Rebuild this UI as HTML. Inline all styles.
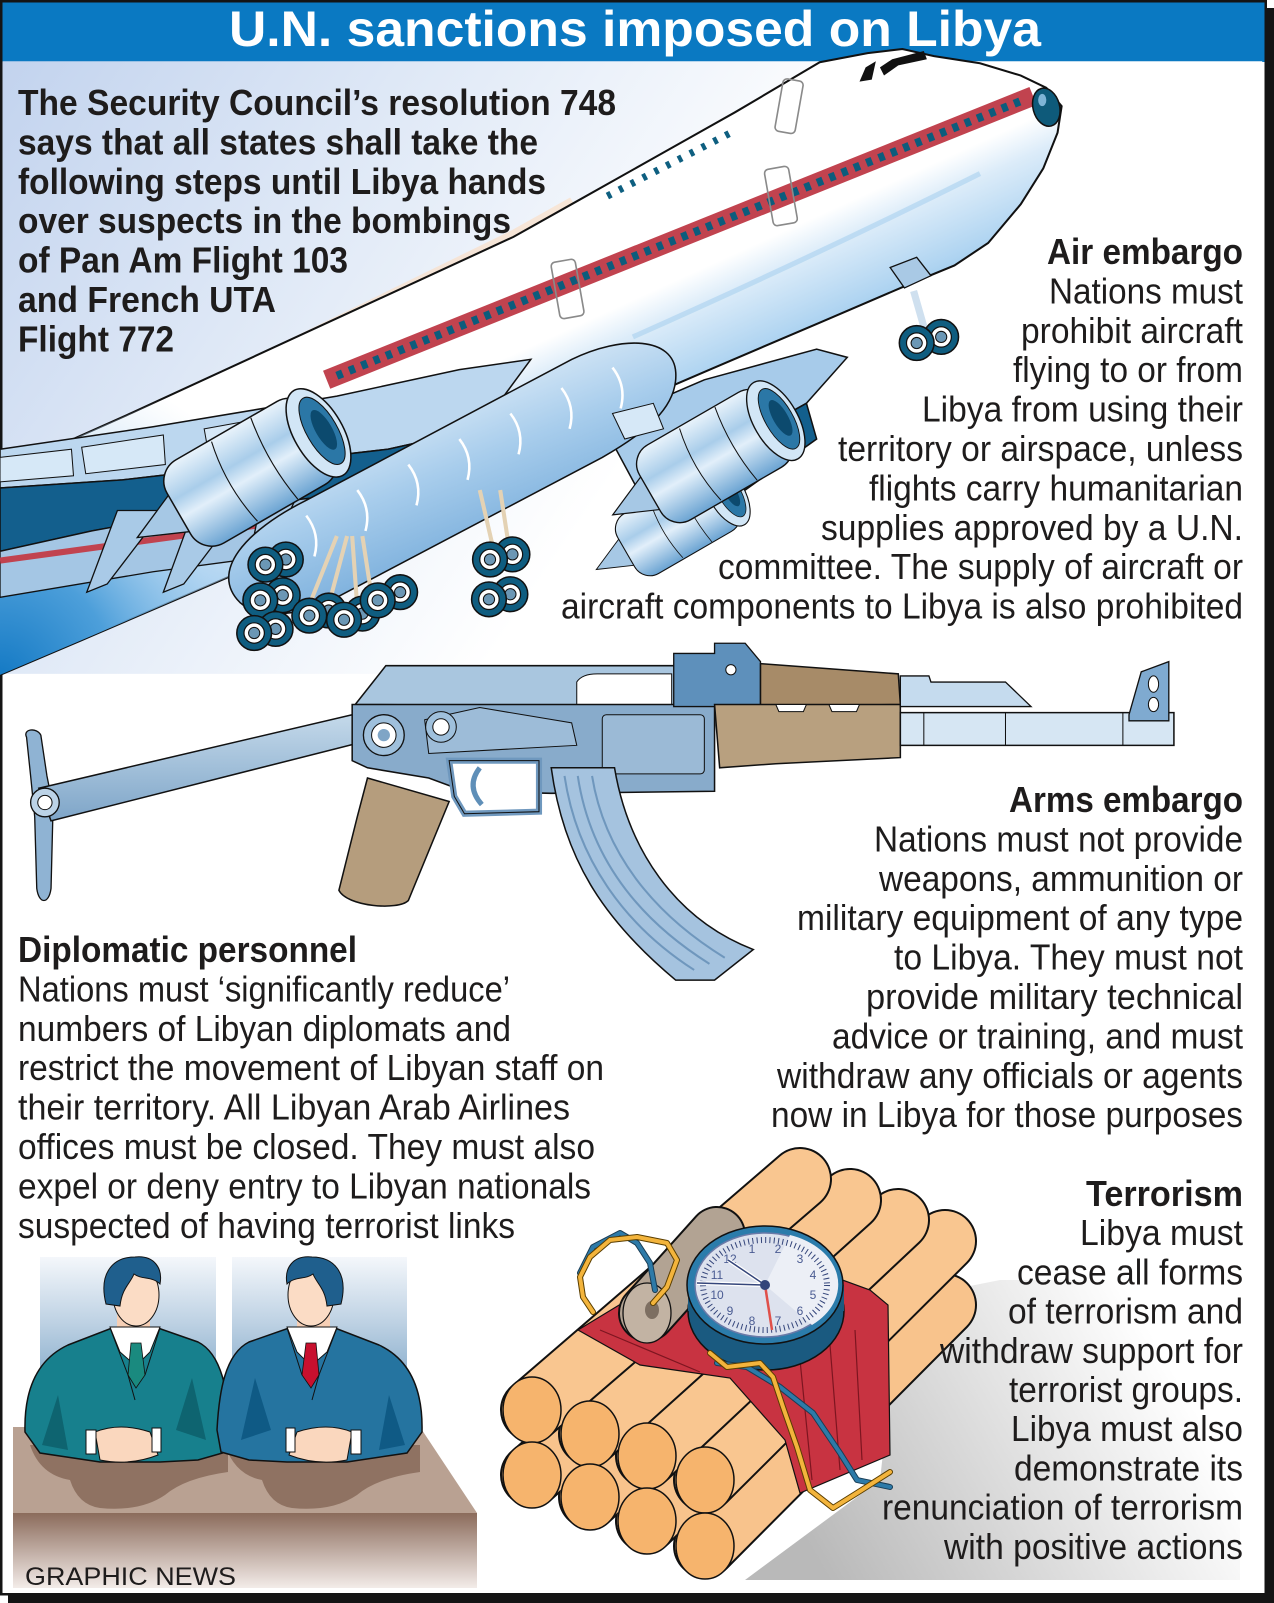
<!DOCTYPE html>
<html><head><meta charset="utf-8">
<style>
html,body{margin:0;padding:0;background:#fff;width:1274px;height:1603px;overflow:hidden}
svg{display:block}
text{font-family:"Liberation Sans",Arial,sans-serif;fill:#1e1c1c}
.b{font-weight:bold}
.t{font-size:36px}
</style></head><body>
<svg xmlns="http://www.w3.org/2000/svg" width="1274" height="1603" viewBox="0 0 1274 1603">
<defs>
<linearGradient id="sky" gradientUnits="userSpaceOnUse" x1="0" y1="60" x2="600" y2="470">
<stop offset="0" stop-color="#c2d3ee"/><stop offset="0.5" stop-color="#e1eaf7"/><stop offset="1" stop-color="#ffffff"/></linearGradient>
<linearGradient id="fuse" gradientUnits="userSpaceOnUse" x1="600" y1="178" x2="700" y2="398">
<stop offset="0" stop-color="#ffffff"/><stop offset="0.47" stop-color="#ffffff"/><stop offset="0.6" stop-color="#dcecf9"/><stop offset="0.85" stop-color="#afd4f1"/><stop offset="1" stop-color="#8cc2ea"/></linearGradient>
<radialGradient id="tailblue" gradientUnits="userSpaceOnUse" cx="0" cy="665" r="320">
<stop offset="0" stop-color="#1379c4"/><stop offset="0.35" stop-color="#4d9fda"/><stop offset="0.7" stop-color="#a9d0f0" stop-opacity="0.6"/><stop offset="1" stop-color="#cfe5f7" stop-opacity="0"/></radialGradient>
<linearGradient id="eng" x1="0" y1="0" x2="0" y2="1">
<stop offset="0" stop-color="#e9f3fb"/><stop offset="0.35" stop-color="#a9cdea"/><stop offset="0.55" stop-color="#e2effa"/><stop offset="1" stop-color="#6aa3d2"/></linearGradient>
<linearGradient id="belly" gradientUnits="userSpaceOnUse" x1="420" y1="380" x2="480" y2="530">
<stop offset="0" stop-color="#dcebf8"/><stop offset="0.5" stop-color="#a8cdec"/><stop offset="1" stop-color="#7eb1dd"/></linearGradient>
<linearGradient id="steel" x1="0" y1="0" x2="0" y2="1">
<stop offset="0" stop-color="#c4d9ea"/><stop offset="1" stop-color="#7ea5c8"/></linearGradient>
<linearGradient id="panel" x1="0" y1="0" x2="0" y2="1">
<stop offset="0" stop-color="#f4f7fb"/><stop offset="0.35" stop-color="#bdd1e3"/><stop offset="1" stop-color="#4c84b2"/></linearGradient>
<linearGradient id="tfront" x1="0" y1="0" x2="0" y2="1">
<stop offset="0" stop-color="#8b6b5b"/><stop offset="1" stop-color="#f3ece9"/></linearGradient>
<linearGradient id="shadow" gradientUnits="userSpaceOnUse" x1="800" y1="1530" x2="1150" y2="1330">
<stop offset="0" stop-color="#b9b9b9"/><stop offset="0.5" stop-color="#dcdcdc"/><stop offset="1" stop-color="#ffffff"/></linearGradient>
<g id="wh"><circle r="17" fill="#0f5d80" stroke="#111" stroke-width="1.5"/><circle r="10" fill="#fff" stroke="#111" stroke-width="1.2"/><circle r="5.5" fill="#6b97b5" stroke="#111" stroke-width="1"/></g>
<g id="engine">
 <path d="M-150,-24 L-205,0 L-150,24Z" fill="#a6c8e5" stroke="#111" stroke-width="1.3"/>
 <rect x="-158" y="-47" width="162" height="94" rx="24" fill="url(#eng)" stroke="#111" stroke-width="1.5"/>
 <path d="M-95,-45 Q-105,0 -95,45 M-50,-46 Q-58,0 -50,46" stroke="#111" fill="none" stroke-width="1.1"/>
 <ellipse cx="0" cy="0" rx="24" ry="48" fill="#d2e6f6" stroke="#111" stroke-width="1.5"/>
 <ellipse cx="4" cy="0" rx="15" ry="37" fill="#2b77a6" stroke="#111"/>
 <ellipse cx="6" cy="0" rx="8" ry="22" fill="#0c4a6e"/>
</g>
</defs>

<!-- frame -->
<rect x="8" y="8" width="1266" height="1595" fill="#141414"/>
<rect x="1.25" y="1.25" width="1264.5" height="1593" fill="#fff" stroke="#141414" stroke-width="2.5"/>
<rect x="2.5" y="2.5" width="1262" height="59.5" fill="#0a79c2"/>

<!-- ILLUSTRATION (perceived coords scaled) -->
<g transform="scale(1.0208 1.021)">
 <rect x="2.5" y="60" width="1234" height="600" fill="url(#sky)"/>
 <path d="M250,352 L503,228 L560,196" stroke="#fbdcc0" stroke-width="6" fill="none" opacity="0.6"/>
 <!-- fuselage -->
 <path d="M0,462 L130,404 L503,232 L560,200 L640,155 L720,110 L803,61 L850,52 L884,48 L915,55 L960,62 L1000,74 L1025,86 L1040,104 L1036,130 L1022,165 L1000,200 L968,238 L935,260 L901,274 L803,316 L700,360 L600,403 L480,455 L380,498 L280,541 L180,584 L80,627 L0,661 Z" fill="url(#fuse)" stroke="#111" stroke-width="2"/>
 <path d="M0,462 L130,404 L503,232 L560,200 L640,155 L720,110 L803,61 L850,52 L884,48 L915,55 L960,62 L1000,74 L1025,86 L1040,104 L1036,130 L1022,165 L1000,200 L968,238 L935,260 L901,274 L803,316 L700,360 L600,403 L480,455 L380,498 L280,541 L180,584 L80,627 L0,661 Z" fill="url(#tailblue)"/>
 <path d="M620,330 Q800,250 960,170" stroke="#a9d0ee" stroke-width="5" fill="none" opacity="0.6"/>
 <!-- upper deck windows -->
 <path d="M595,192 L716,130" stroke="#0e5f80" stroke-width="7" stroke-dasharray="4 9" fill="none"/>
 <!-- cockpit -->
 <path d="M842,80 L848,66 L858,60 L854,78 Z M862,66 L874,58 L905,50 L908,58 L880,64 L866,74 Z" fill="#111"/>
 <rect x="-10" y="-26" width="20" height="52" rx="4" transform="translate(773,104) rotate(10)" fill="none" stroke="#8a8a8a" stroke-width="1.6"/>
 <!-- red stripe -->
 <path d="M320,372 L1012,94" stroke="#c1434f" stroke-width="19" fill="none"/>
 <path d="M330,368 L1000,99" stroke="#0c5c7c" stroke-width="8" stroke-dasharray="6 7" fill="none"/>
 <rect x="-12" y="-28" width="24" height="56" rx="4" transform="translate(556,283) rotate(-10)" fill="none" stroke="#8a8a8a" stroke-width="1.6"/>
 <rect x="-12" y="-28" width="24" height="56" rx="4" transform="translate(765,192) rotate(-10)" fill="none" stroke="#8a8a8a" stroke-width="1.6"/>
 <ellipse cx="1025" cy="105" rx="13" ry="19" fill="#0e5a7a" stroke="#111" stroke-width="1.5" transform="rotate(-15 1025 105)"/>
 <ellipse cx="1021" cy="98" rx="4" ry="6" fill="#7fb4d6"/>
 <!-- right wing (behind) -->
 <path d="M590,415 L690,372 L800,342 L830,350 L790,395 L700,445 L625,480Z" fill="#a7cbea" stroke="#111" stroke-width="1.5"/>
 <path d="M625,480 L700,445 L790,395 L800,430 L730,480 L650,505Z" fill="#135f8d" stroke="#111" stroke-width="1.5"/>
 <!-- left wing -->
 <path d="M0,440 L150,418 L330,388 L450,362 L520,352 L470,420 L380,440 L250,455 L120,470 L0,478Z" fill="#bcd7ef" stroke="#111" stroke-width="1.5"/>
 <path d="M0,448 L70,440 L72,466 L0,472Z M80,438 L160,426 L162,455 L84,464Z M200,420 L300,402 L305,432 L205,448Z" fill="#d6e8f7" stroke="#111" stroke-width="1"/>
 <path d="M0,478 L120,470 L250,455 L380,440 L470,420 L430,470 L330,485 L200,500 L90,520 L0,540Z" fill="#135f8d" stroke="#111" stroke-width="1.5"/>
 <path d="M0,540 L90,520 L200,500 L330,485 L300,540 L150,560 L0,585Z" fill="#a4c6e4" stroke="#111" stroke-width="1.3"/>
 <path d="M0,549 L250,515" stroke="#c1434f" stroke-width="6" fill="none"/>
 <path d="M115,500 L160,500 L105,572 L85,580Z M190,498 L240,493 L180,572 L160,580Z M255,493 L290,488 L265,540 L245,545Z" fill="#a9cae7" stroke="#111" stroke-width="1.3"/>
 <!-- belly -->
 <path d="M235,590 C205,560 240,520 300,490 L560,352 C610,328 660,330 662,365 C664,400 630,425 590,448 L330,585 C295,603 255,608 235,590Z" fill="url(#belly)" stroke="#111" stroke-width="1.5"/>
 <g stroke="#fff" stroke-width="2.5" fill="none">
  <path d="M300,505 q14,18 8,40"/><path d="M350,480 q14,18 8,40"/><path d="M400,455 q14,18 8,40"/><path d="M450,430 q14,18 8,40"/><path d="M500,405 q14,18 8,40"/><path d="M550,380 q14,18 8,40"/><path d="M600,360 q14,18 8,40"/>
 </g>
 <!-- engines -->
 <use href="#engine" transform="translate(312,424) rotate(-30)"/>
 <use href="#engine" transform="translate(712,484) rotate(-30) scale(0.72)"/>
 <use href="#engine" transform="translate(760,412) rotate(-30) scale(0.9)"/>
 <path d="M600,405 L640,395 L650,420 L612,430Z" fill="#d6e8f7" stroke="#111" stroke-width="1"/>
 <!-- gear struts -->
 <g stroke="#e4d2b4" stroke-width="4" fill="none">
  <path d="M300,600 L330,525 M320,600 L340,525 M350,595 L345,525 M365,590 L355,525"/>
  <path d="M485,545 L470,480 M500,545 L490,480"/>
 </g>
 <!-- wheels -->
 <use href="#wh" x="280" y="548"/><use href="#wh" x="260" y="553"/>
 <use href="#wh" x="277" y="583"/><use href="#wh" x="255" y="588"/>
 <use href="#wh" x="270" y="616"/><use href="#wh" x="249" y="620"/>
 <use href="#wh" x="322" y="598"/><use href="#wh" x="303" y="603"/>
 <use href="#wh" x="355" y="601"/><use href="#wh" x="337" y="607"/>
 <use href="#wh" x="392" y="580"/><use href="#wh" x="370" y="588"/>
 <use href="#wh" x="502" y="543"/><use href="#wh" x="480" y="548"/>
 <use href="#wh" x="500" y="582"/><use href="#wh" x="479" y="587"/>
 <!-- nose gear -->
 <path d="M895,285 L905,320 L912,330" stroke="#cfe0ef" stroke-width="7" fill="none"/>
 <path d="M872,262 L898,252 L912,270 L886,282Z" fill="#a9c9e5" stroke="#111" stroke-width="1.3"/>
 <use href="#wh" x="922" y="330"/><use href="#wh" x="898" y="336"/>

 <!-- GUN -->
 <path d="M26,722 C22,714 36,712 40,720 L46,760 L52,790 L50,870 C48,886 38,886 36,870 L34,800 L30,760 Z" fill="#8fb3d3" stroke="#111" stroke-width="1.3"/>
 <path d="M38,772 L345,700 L358,726 L50,804 Z" fill="url(#steel)" stroke="#111" stroke-width="1.5"/>
 <circle cx="44" cy="786" r="14" fill="#bcd3e7" stroke="#111" stroke-width="1.3"/><circle cx="44" cy="786" r="7" fill="#fff" stroke="#111"/>
 <path d="M348,690 L378,652 L662,652 L662,692 Z" fill="#a9c6df" stroke="#111" stroke-width="1.5"/>
 <path d="M565,668 Q570,660 585,660 L658,660 L658,690 L565,690Z" fill="#fff" stroke="#111"/>
 <path d="M345,690 L700,690 L700,775 L540,777 L455,775 L420,762 L360,752 L345,745 Z" fill="#88abcb" stroke="#111" stroke-width="1.5"/>
 <path d="M416,705 L470,693 L560,708 L565,730 L420,738 Z" fill="#9dbcd8" stroke="#111"/>
 <rect x="590" y="700" width="100" height="58" rx="4" fill="#9bbad6" stroke="#111"/>
 <circle cx="376" cy="720" r="20" fill="#9fc0dc" stroke="#111" stroke-width="1.3"/><circle cx="376" cy="720" r="12" fill="#fff" stroke="#111"/><circle cx="376" cy="720" r="6" fill="#7fa5c6"/>
 <circle cx="432" cy="712" r="15" fill="#9fc0dc" stroke="#111"/><circle cx="432" cy="712" r="8" fill="#fff" stroke="#111"/>
 <path d="M660,640 L700,640 L700,630 L730,630 L745,648 L745,692 L660,692Z" fill="#5e90bb" stroke="#111" stroke-width="1.3"/>
 <circle cx="716" cy="656" r="5" fill="#fff" stroke="#111"/>
 <path d="M745,650 L880,660 L882,690 L745,692Z" fill="#a78b68" stroke="#111" stroke-width="1.5"/>
 <path d="M700,690 L882,690 L882,742 L760,748 L705,752Z" fill="#b8a07f" stroke="#111" stroke-width="1.5"/>
 <path d="M760,690 L790,690 L787,697 L763,697Z M812,690 L842,690 L839,697 L815,697Z" fill="#fff" stroke="#111"/>
 <path d="M882,662 L910,662 L912,668 L985,668 L1010,692 L882,692Z" fill="#c5dbee" stroke="#111" stroke-width="1.3"/>
 <path d="M882,698 L1150,698 L1150,730 L882,730Z" fill="#d6e6f3" stroke="#111" stroke-width="1.5"/>
 <path d="M905,698 L905,730 M985,698 L985,730 M1100,698 L1100,730" stroke="#111" stroke-width="1"/>
 <path d="M1106,700 L1118,658 L1145,648 L1145,706 L1106,706Z" fill="#7faad0" stroke="#111" stroke-width="1.3"/>
 <ellipse cx="1130" cy="670" rx="5" ry="8" fill="#fff" stroke="#111"/><ellipse cx="1130" cy="690" rx="5" ry="7" fill="#fff" stroke="#111"/>
 <path d="M360,762 L440,785 L400,882 C390,892 340,888 332,872 L350,800 Z" fill="#b59d7d" stroke="#111" stroke-width="1.5"/>
 <path d="M440,745 L528,745 L528,795 L455,797 L445,780Z" fill="#fff" stroke="#6f98be" stroke-width="6"/>
 <path d="M440,745 L528,745 L528,795 L455,797 L445,780Z" fill="none" stroke="#111" stroke-width="1"/>
 <path d="M470,752 q-14,18 2,36" stroke="#5f8fb8" stroke-width="5" fill="none"/>
 <path d="M540,752 L602,752 C615,830 660,900 738,930 L700,960 L662,960 C590,900 552,840 540,752Z" fill="#a5c3df" stroke="#111" stroke-width="1.5"/>
 <g stroke="#6f97bd" stroke-width="2" fill="none">
  <path d="M553,760 C565,840 610,905 680,950"/><path d="M566,760 C578,840 625,900 695,944"/><path d="M580,760 C592,835 640,895 710,938"/>
 </g>
</g>

<!-- TITLE -->
<text x="229" y="46" class="b" font-size="50" style="fill:#fff" textLength="812" lengthAdjust="spacingAndGlyphs">U.N. sanctions imposed on Libya</text>

<!-- MEN & TABLE -->
<rect x="40" y="1257" width="176" height="190" fill="url(#panel)"/>
<rect x="232" y="1257" width="175" height="190" fill="url(#panel)"/>
<path d="M13,1427 L420,1427 L477,1513 L13,1513Z" fill="#b9a192"/>
<path d="M30,1445 Q40,1475 70,1480 Q78,1505 100,1508 Q140,1512 165,1495 Q185,1478 228,1472 L228,1445Z" fill="#8f7262"/>
<path d="M225,1445 Q235,1475 262,1480 Q270,1505 292,1508 Q332,1512 357,1495 Q377,1478 420,1472 L420,1445Z" fill="#8f7262"/>
<rect x="13" y="1513" width="464" height="75" fill="url(#tfront)"/>
<!-- left man -->
<g>
 <path d="M25,1432 C24,1392 36,1360 68,1345 L112,1328 L158,1328 L198,1342 C222,1354 228,1392 230,1430 L226,1452 L198,1460 L160,1462 L100,1462 L40,1453 Z" fill="#17808d" stroke="#111" stroke-width="1.5"/>
 <path d="M58,1395 L68,1450 L42,1445Z M192,1378 L206,1440 L176,1430Z" fill="#0e6470"/>
 <path d="M117,1310 L150,1310 L150,1334 L117,1334Z" fill="#f6cfb5"/>
 <path d="M110,1327 L160,1327 L150,1352 L136,1366 L120,1352Z" fill="#fff" stroke="#111"/>
 <path d="M131,1343 L141,1343 L145,1375 L136,1388 L128,1375Z" fill="#1a8a7f" stroke="#111" stroke-width="0.8"/>
 <path d="M110,1328 L128,1375 L135,1400 M160,1328 L145,1375" stroke="#111" fill="none"/>
 <ellipse cx="136" cy="1295" rx="23" ry="31" fill="#fbdcc5" stroke="#111"/>
 <path d="M106,1304 C98,1272 114,1257 135,1257 C154,1255 163,1268 160,1284 C152,1276 142,1280 134,1274 C130,1284 122,1288 120,1306 Z" fill="#1f5f8d" stroke="#111"/>
 <path d="M95,1432 Q120,1422 150,1432 L158,1455 Q130,1466 100,1460 Z" fill="#fad7be" stroke="#111"/>
 <rect x="86" y="1430" width="10" height="24" fill="#fff" stroke="#111"/><rect x="152" y="1428" width="9" height="24" fill="#fff" stroke="#111"/>
</g>
<!-- right man (mirrored) -->
<g transform="translate(447,0) scale(-1,1)">
 <path d="M25,1432 C24,1392 36,1360 68,1345 L112,1328 L158,1328 L198,1342 C222,1354 228,1392 230,1430 L226,1452 L198,1460 L160,1462 L100,1462 L40,1453 Z" fill="#2574a0" stroke="#111" stroke-width="1.5"/>
 <path d="M58,1395 L68,1450 L42,1445Z M192,1378 L206,1440 L176,1430Z" fill="#0f5a85"/>
 <path d="M117,1310 L150,1310 L150,1334 L117,1334Z" fill="#f6cfb5"/>
 <path d="M110,1327 L160,1327 L150,1352 L136,1366 L120,1352Z" fill="#fff" stroke="#111"/>
 <path d="M131,1343 L141,1343 L145,1375 L136,1388 L128,1375Z" fill="#c8102e" stroke="#111" stroke-width="0.8"/>
 <path d="M110,1328 L128,1375 L135,1400 M160,1328 L145,1375" stroke="#111" fill="none"/>
 <ellipse cx="136" cy="1295" rx="23" ry="31" fill="#fbdcc5" stroke="#111"/>
 <path d="M106,1304 C98,1272 114,1257 135,1257 C154,1255 163,1268 160,1284 C152,1276 142,1280 134,1274 C130,1284 122,1288 120,1306 Z" fill="#1f5f8d" stroke="#111"/>
 <path d="M95,1432 Q120,1422 150,1432 L158,1455 Q130,1466 100,1460 Z" fill="#fad7be" stroke="#111"/>
 <rect x="86" y="1430" width="10" height="24" fill="#fff" stroke="#111"/><rect x="152" y="1428" width="9" height="24" fill="#fff" stroke="#111"/>
</g>
<text x="25" y="1585" font-size="25" textLength="211" lengthAdjust="spacingAndGlyphs">GRAPHIC NEWS</text>

<!-- DYNAMITE -->
<path d="M900,1300 L1000,1280 L1240,1280 L1240,1580 L745,1580 L880,1480Z" fill="url(#shadow)"/>
<g stroke-linecap="round" fill="none">
 <g stroke="#111">
  <path d="M705,1546 L945,1305" stroke-width="64"/><path d="M647,1521 L898,1283" stroke-width="64"/>
  <path d="M590,1497 L850,1262" stroke-width="64"/><path d="M532,1475 L800,1240" stroke-width="64"/>
 </g>
 <path d="M705,1546 L945,1305" stroke="#f8c38c" stroke-width="60"/><path d="M647,1521 L898,1283" stroke="#f8c38c" stroke-width="60"/>
 <path d="M590,1497 L850,1262" stroke="#f8c38c" stroke-width="60"/><path d="M532,1475 L800,1240" stroke="#f8c38c" stroke-width="60"/>
 <path d="M705,1480 L945,1241" stroke="#111" stroke-width="64"/><path d="M705,1480 L945,1241" stroke="#f9c690" stroke-width="60"/>
 <path d="M647,1456 L898,1220" stroke="#111" stroke-width="64"/><path d="M647,1456 L898,1220" stroke="#f9c690" stroke-width="60"/>
 <path d="M590,1434 L850,1200" stroke="#111" stroke-width="64"/><path d="M590,1434 L850,1200" stroke="#f9c690" stroke-width="60"/>
 <path d="M532,1410 L800,1179" stroke="#111" stroke-width="64"/><path d="M532,1410 L800,1179" stroke="#f9c690" stroke-width="60"/>
</g>
<g fill="#f6b46d" stroke="#111" stroke-width="1.5">
 <ellipse cx="532" cy="1410" rx="29" ry="33"/><ellipse cx="590" cy="1434" rx="29" ry="33"/><ellipse cx="647" cy="1456" rx="29" ry="33"/><ellipse cx="705" cy="1480" rx="29" ry="33"/>
 <ellipse cx="532" cy="1475" rx="29" ry="33"/><ellipse cx="590" cy="1497" rx="29" ry="33"/><ellipse cx="647" cy="1521" rx="29" ry="33"/><ellipse cx="705" cy="1546" rx="29" ry="33"/>
</g>
<path d="M578,1330 L690,1262 L760,1250 L870,1290 L888,1305 L890,1455 L800,1493 L785,1440 L730,1378 L640,1365 Z" fill="#c83341" stroke="#111" stroke-width="1.2"/>
<path d="M800,1360 L812,1480 M830,1345 L840,1470 M855,1330 L862,1460 M600,1330 L700,1372" stroke="#7d1520" stroke-width="1.2" fill="none"/>
<!-- detonator -->
<path d="M647,1313 L717,1235" stroke="#111" stroke-width="58" stroke-linecap="round"/>
<path d="M647,1313 L717,1235" stroke="#b2a393" stroke-width="54" stroke-linecap="round"/>
<ellipse cx="647" cy="1313" rx="24" ry="30" fill="#c2b3a3" stroke="#111" stroke-width="1.3"/>
<ellipse cx="652" cy="1310" rx="7" ry="9" fill="#7d6f62"/>
<!-- clock -->
<ellipse cx="766" cy="1311" rx="78" ry="59" fill="#1a5a80" stroke="#111" stroke-width="1.5"/>
<rect x="688" y="1285" width="156" height="26" fill="#1a5a80"/>
<ellipse cx="765" cy="1285" rx="78" ry="59" fill="#2b7cab" stroke="#111" stroke-width="1.5"/>
<ellipse cx="765" cy="1285" rx="70" ry="52" fill="#dde2ee" stroke="#6a7aa8" stroke-width="1.5"/>
<path d="M765,1285 L790,1235 A70,52 0 0 1 812,1325 Z" fill="#eceff6"/>
<ellipse cx="765" cy="1285" rx="62" ry="45" fill="none" stroke="#34457a" stroke-width="6" stroke-dasharray="1 3.3"/>
<g font-size="12" text-anchor="middle">
<text x="730" y="1263" style="fill:#4a5b92">12</text><text x="752" y="1253" style="fill:#4a5b92">1</text><text x="778" y="1253" style="fill:#4a5b92">2</text><text x="800" y="1263" style="fill:#4a5b92">3</text>
<text x="813" y="1279" style="fill:#4a5b92">4</text><text x="813" y="1299" style="fill:#4a5b92">5</text><text x="800" y="1315" style="fill:#4a5b92">6</text><text x="778" y="1325" style="fill:#4a5b92">7</text>
<text x="752" y="1325" style="fill:#4a5b92">8</text><text x="730" y="1315" style="fill:#4a5b92">9</text><text x="717" y="1299" style="fill:#4a5b92">10</text><text x="717" y="1279" style="fill:#4a5b92">11</text>
</g>
<path d="M765,1285 L728,1260 M765,1285 L697,1283" stroke="#fff" stroke-width="4"/>
<path d="M765,1285 L728,1260 M765,1285 L697,1283" stroke="#34457a" stroke-width="1.5"/>
<path d="M765,1285 L772,1330" stroke="#e0504a" stroke-width="2.5"/>
<circle cx="765" cy="1285" r="5" fill="#34457a"/>
<!-- wires -->
<g fill="none" stroke-linecap="round" stroke-linejoin="round">
 <path d="M580,1273 L593,1247 L620,1233 L637,1243 L650,1263 L655,1290" stroke="#1a3d55" stroke-width="6"/>
 <path d="M580,1273 L593,1247 L620,1233 L637,1243 L650,1263 L655,1290" stroke="#2d7aa8" stroke-width="4"/>
 <path d="M653,1303 L667,1287 L677,1260 L667,1243 L637,1237 L610,1240 L590,1257 L580,1277 L583,1297 L593,1312" stroke="#5a3e00" stroke-width="6"/>
 <path d="M653,1303 L667,1287 L677,1260 L667,1243 L637,1237 L610,1240 L590,1257 L580,1277 L583,1297 L593,1312" stroke="#f3b43c" stroke-width="4"/>
 <path d="M717,1363 L747,1367 L780,1387 L813,1413 L840,1453 L857,1480 L890,1487" stroke="#1a3d55" stroke-width="6"/>
 <path d="M717,1363 L747,1367 L780,1387 L813,1413 L840,1453 L857,1480 L890,1487" stroke="#2d7aa8" stroke-width="4"/>
 <path d="M710,1353 L727,1367 L760,1363 L773,1377 L783,1407 L797,1447 L810,1490 L833,1508 L857,1493 L890,1472" stroke="#5a3e00" stroke-width="6"/>
 <path d="M710,1353 L727,1367 L760,1363 L773,1377 L783,1407 L797,1447 L810,1490 L833,1508 L857,1493 L890,1472" stroke="#f3b43c" stroke-width="4"/>
</g>

<!-- INTRO TEXT -->
<g class="b t">
<text x="18" y="115" textLength="598" lengthAdjust="spacingAndGlyphs">The Security Council’s resolution 748</text>
<text x="18" y="154.4" textLength="520" lengthAdjust="spacingAndGlyphs">says that all states shall take the</text>
<text x="18" y="193.8" textLength="528" lengthAdjust="spacingAndGlyphs">following steps until Libya hands</text>
<text x="18" y="233.2" textLength="493" lengthAdjust="spacingAndGlyphs">over suspects in the bombings</text>
<text x="18" y="272.6" textLength="330" lengthAdjust="spacingAndGlyphs">of Pan Am Flight 103</text>
<text x="18" y="312" textLength="258" lengthAdjust="spacingAndGlyphs">and French UTA</text>
<text x="18" y="351.4" textLength="156" lengthAdjust="spacingAndGlyphs">Flight 772</text>
</g>

<!-- AIR EMBARGO -->
<g class="t">
<text class="b" x="1047" y="264" textLength="196" lengthAdjust="spacingAndGlyphs">Air embargo</text>
<text x="1049" y="303.4" textLength="194" lengthAdjust="spacingAndGlyphs">Nations must</text>
<text x="1021" y="342.8" textLength="222" lengthAdjust="spacingAndGlyphs">prohibit aircraft</text>
<text x="1013" y="382.2" textLength="230" lengthAdjust="spacingAndGlyphs">flying to or from</text>
<text x="922" y="421.6" textLength="321" lengthAdjust="spacingAndGlyphs">Libya from using their</text>
<text x="838" y="461" textLength="405" lengthAdjust="spacingAndGlyphs">territory or airspace, unless</text>
<text x="869" y="500.4" textLength="374" lengthAdjust="spacingAndGlyphs">flights carry humanitarian</text>
<text x="821" y="539.8" textLength="422" lengthAdjust="spacingAndGlyphs">supplies approved by a U.N.</text>
<text x="718" y="579.2" textLength="525" lengthAdjust="spacingAndGlyphs">committee. The supply of aircraft or</text>
<text x="561" y="618.6" textLength="682" lengthAdjust="spacingAndGlyphs">aircraft components to Libya is also prohibited</text>
</g>

<!-- ARMS EMBARGO -->
<g class="t">
<text class="b" x="1009" y="812" textLength="234" lengthAdjust="spacingAndGlyphs">Arms embargo</text>
<text x="874" y="851.4" textLength="369" lengthAdjust="spacingAndGlyphs">Nations must not provide</text>
<text x="879" y="890.8" textLength="364" lengthAdjust="spacingAndGlyphs">weapons, ammunition or</text>
<text x="797" y="930.2" textLength="446" lengthAdjust="spacingAndGlyphs">military equipment of any type</text>
<text x="894" y="969.6" textLength="349" lengthAdjust="spacingAndGlyphs">to Libya. They must not</text>
<text x="866" y="1009" textLength="377" lengthAdjust="spacingAndGlyphs">provide military  technical</text>
<text x="832" y="1048.4" textLength="411" lengthAdjust="spacingAndGlyphs">advice or training, and must</text>
<text x="777" y="1087.8" textLength="466" lengthAdjust="spacingAndGlyphs">withdraw any officials or agents</text>
<text x="771" y="1127.2" textLength="472" lengthAdjust="spacingAndGlyphs">now in Libya for those purposes</text>
</g>

<!-- DIPLOMATIC -->
<g class="t">
<text class="b" x="18" y="962" textLength="339" lengthAdjust="spacingAndGlyphs">Diplomatic personnel</text>
<text x="18" y="1001.4" textLength="492" lengthAdjust="spacingAndGlyphs">Nations must ‘significantly reduce’</text>
<text x="18" y="1040.8" textLength="493" lengthAdjust="spacingAndGlyphs">numbers of Libyan diplomats and</text>
<text x="18" y="1080.2" textLength="586" lengthAdjust="spacingAndGlyphs">restrict the movement of Libyan staff on</text>
<text x="18" y="1119.6" textLength="552" lengthAdjust="spacingAndGlyphs">their territory. All Libyan Arab Airlines</text>
<text x="18" y="1159" textLength="577" lengthAdjust="spacingAndGlyphs">offices must be closed. They must also</text>
<text x="18" y="1198.4" textLength="573" lengthAdjust="spacingAndGlyphs">expel or deny entry to Libyan nationals</text>
<text x="18" y="1237.8" textLength="497" lengthAdjust="spacingAndGlyphs">suspected of having terrorist links</text>
</g>

<!-- TERRORISM -->
<g class="t">
<text class="b" x="1086" y="1206" textLength="157" lengthAdjust="spacingAndGlyphs">Terrorism</text>
<text x="1080" y="1245.2" textLength="163" lengthAdjust="spacingAndGlyphs">Libya must</text>
<text x="1017" y="1284.4" textLength="226" lengthAdjust="spacingAndGlyphs">cease all forms</text>
<text x="1008" y="1323.6" textLength="235" lengthAdjust="spacingAndGlyphs">of terrorism and</text>
<text x="940" y="1362.8" textLength="303" lengthAdjust="spacingAndGlyphs">withdraw support for</text>
<text x="1009" y="1402" textLength="234" lengthAdjust="spacingAndGlyphs">terrorist groups.</text>
<text x="1011" y="1441.2" textLength="232" lengthAdjust="spacingAndGlyphs">Libya must also</text>
<text x="1014" y="1480.4" textLength="229" lengthAdjust="spacingAndGlyphs">demonstrate its</text>
<text x="882" y="1519.6" textLength="361" lengthAdjust="spacingAndGlyphs">renunciation of terrorism</text>
<text x="944" y="1558.8" textLength="299" lengthAdjust="spacingAndGlyphs">with positive actions</text>
</g>
</svg>
</body></html>
